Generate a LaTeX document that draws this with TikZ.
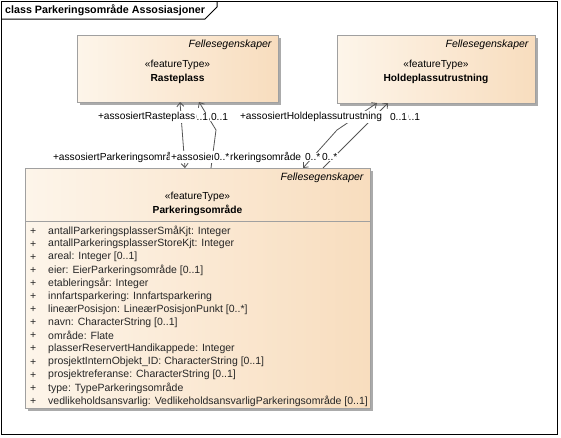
\documentclass[tikz,border=0pt]{standalone}
\usepackage{fontspec}
\setmainfont{Liberation Sans}
\usetikzlibrary{calc}
\usetikzlibrary{positioning}
\usetikzlibrary{arrows.meta}
\usetikzlibrary{shadows}

\definecolor{classleft}{HTML}{FDF5EA}
\definecolor{classright}{HTML}{F8DDBE}
\definecolor{classborder}{HTML}{A0A0A0}
\definecolor{classshadow}{HTML}{ABABAB}
\definecolor{linkgray}{HTML}{555555}
\newcommand{\eafont}{\fontsize{10.2}{12}\selectfont}
\newcommand{\eaattrfont}{\fontsize{10.5}{12}\selectfont}

\begin{document}
\begin{tikzpicture}[x=1pt, y=-1pt, font=\eafont,
    classbox/.style={draw=classborder, line width=1pt, left color=classleft, right color=classright,
      anchor=north west, outer sep=0pt, inner sep=0pt,
      drop shadow={shadow xshift=3pt, shadow yshift=-3pt, fill=classshadow, opacity=1}},
    link/.style={linkgray, line width=0.8pt},
    navarrow/.tip={Straight Barb[length=4pt, width=7pt]},
    rolelabel/.style={anchor=west, fill=white, inner sep=0.8pt},
    attr/.style={anchor=west, inner sep=0pt, font=\eaattrfont, text=black!85}]
  \useasboundingbox (0,0) rectangle (561,437);

  % Diagram frame with title tab
  \draw[black, line width=1pt] (1,1) rectangle (557,434);
  \draw[black, line width=1pt] (1,19) -- (205,19) -- (217,7) -- (217,1);
  \node[anchor=west, font=\fontsize{10.7}{12}\selectfont\bfseries, inner sep=0pt] (title) at (5,10) {class Parkeringsområde Assosiasjoner};

  % Class boxes
  \node[classbox, minimum width=201pt, minimum height=67pt] (rasteplass) at (77,35) {};
  \node[classbox, minimum width=198pt, minimum height=68pt] (holdeplass) at (337,35) {};
  \node[classbox, minimum width=345pt, minimum height=240pt] (parkering) at (25,168) {};

  % Rasteplass
  \node[anchor=east, font=\eaattrfont\itshape] (rastefelles) at (275,45) {Fellesegenskaper};
  \node (rastestereo) at (177.5,65) {«featureType»};
  \node[font=\eafont\bfseries] (rastename) at (177.5,79) {Rasteplass};

  % Holdeplassutrustning
  \node[anchor=east, font=\eaattrfont\itshape] (holdefelles) at (532,45) {Fellesegenskaper};
  \node (holdestereo) at (436,65) {«featureType»};
  \node[font=\eafont\bfseries] (holdename) at (436,79) {Holdeplassutrustning};

  % Parkeringsområde
  \node[anchor=east, font=\eaattrfont\itshape] (parkfelles) at (367,178) {Fellesegenskaper};
  \node (parkstereo) at (197.5,197) {«featureType»};
  \node[font=\eafont\bfseries] (parkname) at (197.5,210) {Parkeringsområde};
  \draw[classborder, line width=1pt] ([yshift=-53pt]parkering.north west) -- ([yshift=-53pt]parkering.north east);

  % Attributes
  \foreach \attrtext [count=\i from 0] in {
      {antallParkeringsplasserSmåKjt: Integer},
      {antallParkeringsplasserStoreKjt: Integer},
      {areal: Integer [0..1]},
      {eier: EierParkeringsområde [0..1]},
      {etableringsår: Integer},
      {innfartsparkering: Innfartsparkering},
      {lineærPosisjon: LineærPosisjonPunkt [0..*]},
      {navn: CharacterString [0..1]},
      {område: Flate},
      {plasserReservertHandikappede: Integer},
      {prosjektInternObjekt\_ID: CharacterString [0..1]},
      {prosjektreferanse: CharacterString [0..1]},
      {type: TypeParkeringsområde},
      {vedlikeholdsansvarlig: VedlikeholdsansvarligParkeringsområde [0..1]}} {
    \node[attr] (plus\i) at (30,{231+13.1*\i}) {+};
    \node[attr] (attr\i) at (48,{231+13.1*\i}) {\attrtext};
  }

  % Connector end points
  \coordinate (rasteA) at ([xshift=103pt]rasteplass.south west);
  \coordinate (rasteB) at ([xshift=122pt]rasteplass.south west);
  \coordinate (holdeA) at ([xshift=40pt]holdeplass.south west);
  \coordinate (holdeB) at ([xshift=51pt]holdeplass.south west);
  \coordinate (parkA) at ([xshift=160pt]parkering.north west);
  \coordinate (parkB) at ([xshift=186pt]parkering.north west);
  \coordinate (parkC) at ([xshift=278pt]parkering.north west);
  \coordinate (parkD) at ([xshift=298pt]parkering.north west);
  \coordinate (bendB) at (216,130);
  \coordinate (bendC) at (337,130);
  \coordinate (bendD) at (361,130);

  % Associations
  \draw[link, navarrow-navarrow] (rasteA) -- (parkA);
  \draw[link, navarrow-] (rasteB) -- (bendB) -- (parkB);
  \draw[link, navarrow-navarrow] (holdeA) -- (bendC) -- (parkC);
  \draw[link, navarrow-] (holdeB) -- (bendD) -- (parkD);

  % Role names and multiplicities
  \node[rolelabel] (rastemultb) at (190,117) {0..1};
  \node[rolelabel] (rasterole) at (97,117) {+assosiertRasteplass};
  \node[rolelabel] (rastemulta) at (210,117) {0..1};
  \node[rolelabel] (holderole) at (239,117) {+assosiertHoldeplassutrustning};
  \node[rolelabel] (holdemultb) at (402,117) {0..1};
  \node[rolelabel] (holdemulta) at (389,117) {0..1};

  \node[rolelabel] (parkrolea) at (52,157) {+assosiertParkeringsområde};
  \node[rolelabel] (parkroleb) at (170,157) {+assosiertParkeringsområde};
  \node[rolelabel] (parkmulta) at (213,157) {0..*};
  \node[rolelabel] (parkmultd) at (321,157) {0..*};
  \node[rolelabel] (parkmultc) at (304,157) {0..*};

\end{tikzpicture}
\end{document}
